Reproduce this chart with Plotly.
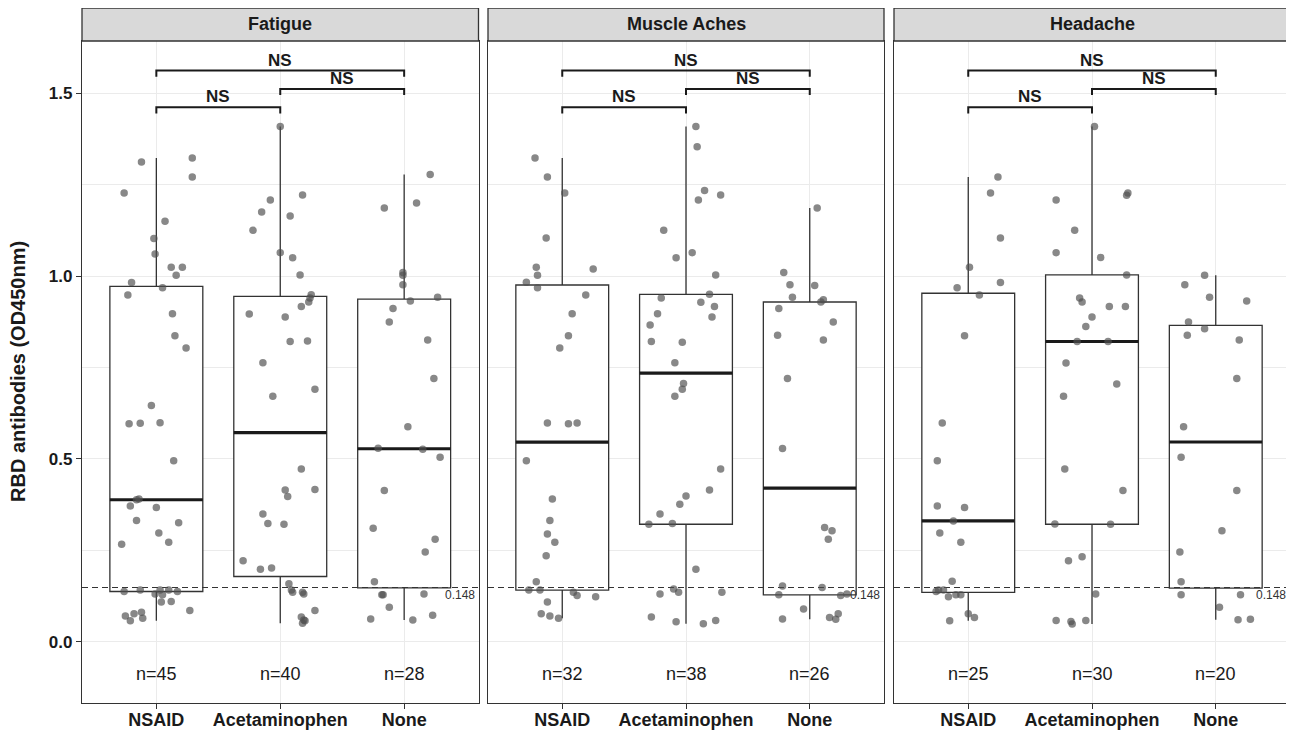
import numpy as np
import plotly.graph_objects as go

# ---------------- data ----------------
symptoms = ["Fatigue", "Muscle Aches", "Headache"]
treatments = ["NSAID", "Acetaminophen", "None"]
threshold = 0.148
y_ticks = [0.0, 0.5, 1.0, 1.5]
y_title = "RBD antibodies (OD450nm)"
sig_label = "NS"
comparisons = [(1, 2), (2, 3), (1, 3)]
bracket_levels = [1.462, 1.512, 1.562]

# Fatigue
fatigue_nsaid_y = [1.312, 1.323, 1.271, 1.227, 1.150, 1.103, 1.060, 1.024, 1.024, 1.002, 0.982, 0.948, 0.968, 0.897, 0.837, 0.803,
                   0.646, 0.596, 0.597, 0.599, 0.495, 0.390, 0.388, 0.371, 0.367, 0.331, 0.325, 0.297, 0.266, 0.272,
                   0.137, 0.141, 0.130, 0.141, 0.128, 0.141, 0.137, 0.108, 0.110, 0.085, 0.070, 0.076, 0.080, 0.064, 0.057]
fatigue_nsaid_dx = [-0.12, 0.29, 0.29, -0.26, 0.07, -0.02, -0.01, 0.12, 0.21, 0.16, -0.20, -0.23, 0.05, 0.13, 0.15, 0.24,
                    -0.04, -0.22, -0.13, 0.03, 0.14, -0.14, -0.16, -0.21, 0.00, -0.16, 0.18, 0.02, -0.28, 0.10,
                    -0.26, -0.13, -0.01, 0.03, 0.05, 0.10, 0.17, 0.04, 0.12, 0.27, -0.25, -0.18, -0.12, -0.11, -0.21]
fatigue_acet_y = [1.409, 1.222, 1.208, 1.175, 1.164, 1.125, 1.064, 1.050, 1.003, 0.949, 0.929, 0.917, 0.896, 0.888, 0.821, 0.822, 0.763, 0.940,
                  0.690, 0.671,
                  0.472, 0.415, 0.416, 0.397, 0.349, 0.323, 0.321, 0.221, 0.198, 0.201,
                  0.158, 0.141, 0.135, 0.135, 0.130, 0.085, 0.067, 0.059, 0.050, 0.057]
fatigue_acet_dx = [0.00, 0.18, -0.08, -0.15, 0.08, -0.22, 0.00, 0.10, 0.16, 0.25, 0.23, 0.17, -0.25, 0.04, 0.08, 0.22, -0.14, 0.24,
                   0.28, -0.06,
                   0.17, 0.04, 0.28, 0.06, -0.14, -0.10, 0.03, -0.30, -0.16, -0.07,
                   0.07, 0.09, 0.10, 0.18, 0.19, 0.28, 0.17, 0.19, 0.18, 0.20]
fatigue_none_y = [1.278, 1.200, 1.186, 1.010, 1.002, 0.976, 0.942, 0.932, 0.911, 0.874, 0.825, 0.720,
                  0.588, 0.529, 0.526, 0.504, 0.413, 0.310, 0.280, 0.245,
                  0.164, 0.128, 0.128, 0.130, 0.094, 0.072, 0.062, 0.059]
fatigue_none_dx = [0.21, 0.10, -0.16, -0.01, -0.01, -0.01, 0.27, 0.05, -0.09, -0.12, 0.19, 0.24,
                   0.03, -0.21, 0.15, 0.29, -0.16, -0.25, 0.25, 0.17,
                   -0.24, -0.18, -0.17, 0.16, -0.12, 0.23, -0.27, 0.07]

# Muscle Aches
muscle_nsaid_y = [1.323, 1.271, 1.227, 1.104, 1.024, 1.019, 1.002, 0.983, 0.968, 0.948, 0.897, 0.837, 0.803,
                  0.598, 0.596, 0.598, 0.495, 0.390, 0.331, 0.294, 0.272, 0.235,
                  0.164, 0.141, 0.141, 0.135, 0.126, 0.123, 0.108, 0.076, 0.070, 0.064]
muscle_nsaid_dx = [-0.22, -0.12, 0.02, -0.13, -0.21, 0.25, -0.20, -0.29, -0.20, 0.19, 0.08, 0.05, -0.02,
                   -0.12, 0.05, 0.12, -0.29, -0.08, -0.10, -0.12, -0.06, -0.13,
                   -0.21, -0.27, -0.18, 0.09, 0.12, 0.27, -0.12, -0.17, -0.10, -0.03]
muscle_acet_y = [1.409, 1.354, 1.234, 1.222, 1.208, 1.125, 1.064, 1.050, 1.003, 0.950, 0.940, 0.928, 0.917, 0.897, 0.888, 0.866, 0.821, 0.819,
                 0.763, 0.706, 0.690, 0.671,
                 0.472, 0.415, 0.398, 0.376, 0.349, 0.321, 0.323, 0.198,
                 0.144, 0.135, 0.135, 0.130, 0.067, 0.054, 0.049, 0.058]
muscle_acet_dx = [0.08, 0.09, 0.15, 0.28, 0.10, -0.18, 0.05, -0.08, 0.24, 0.19, -0.20, 0.12, 0.23, -0.23, 0.21, -0.29, -0.28, -0.03,
                  -0.09, -0.02, -0.03, -0.09,
                  0.28, 0.19, 0.00, -0.05, -0.21, -0.30, -0.11, 0.08,
                  -0.10, -0.06, 0.29, -0.21, -0.28, -0.08, 0.14, 0.24]
muscle_none_y = [1.186, 1.010, 0.976, 0.974, 0.942, 0.935, 0.929, 0.911, 0.874, 0.838, 0.825, 0.720,
                 0.528, 0.312, 0.303, 0.280,
                 0.152, 0.148, 0.128, 0.126, 0.130, 0.089, 0.062, 0.066, 0.061, 0.076]
muscle_none_dx = [0.06, -0.21, -0.16, 0.04, -0.14, 0.11, 0.09, -0.25, 0.19, -0.26, 0.11, -0.18,
                  -0.22, 0.12, 0.18, 0.15,
                  -0.22, 0.10, -0.25, 0.25, 0.30, -0.05, -0.22, 0.16, 0.21, 0.23]

# Headache
headache_nsaid_y = [1.271, 1.227, 1.104, 1.024, 0.968, 0.982, 0.948, 0.837,
                    0.598, 0.495, 0.371, 0.367, 0.330, 0.297, 0.272, 0.165,
                    0.137, 0.141, 0.141, 0.123, 0.128, 0.128, 0.076, 0.066, 0.057]
headache_nsaid_dx = [0.24, 0.18, 0.26, 0.01, -0.09, 0.26, 0.09, -0.03,
                     -0.21, -0.25, -0.25, -0.03, -0.12, -0.23, -0.06, -0.13,
                     -0.26, -0.20, -0.24, -0.16, -0.10, -0.06, 0.00, 0.05, -0.15]
headache_acet_y = [1.409, 1.227, 1.221, 1.208, 1.125, 1.064, 1.051, 1.003, 0.940, 0.929, 0.917, 0.917, 0.888, 0.862, 0.821, 0.821,
                   0.762, 0.705, 0.671,
                   0.472, 0.413, 0.322, 0.321, 0.221, 0.232,
                   0.130, 0.058, 0.055, 0.048, 0.058]
headache_acet_dx = [0.02, 0.29, 0.28, -0.29, -0.14, -0.29, 0.07, 0.28, -0.10, -0.08, 0.14, 0.27, 0.00, -0.05, -0.12, 0.13,
                    -0.21, 0.20, -0.23,
                    -0.22, 0.25, -0.30, 0.15, -0.19, -0.08,
                    0.03, -0.29, -0.17, -0.16, -0.05]
headache_none_y = [1.002, 0.976, 0.942, 0.932, 0.874, 0.856, 0.838, 0.825, 0.720,
                   0.588, 0.504, 0.413, 0.303, 0.245,
                   0.164, 0.128, 0.128, 0.094, 0.060, 0.061]
headache_none_dx = [-0.09, -0.25, -0.05, 0.25, -0.22, -0.09, -0.23, 0.19, 0.17,
                    -0.26, -0.28, 0.17, 0.05, -0.29,
                    -0.28, -0.28, 0.20, 0.03, 0.18, 0.28]

panel_data = [
    [(fatigue_nsaid_y, fatigue_nsaid_dx), (fatigue_acet_y, fatigue_acet_dx), (fatigue_none_y, fatigue_none_dx)],
    [(muscle_nsaid_y, muscle_nsaid_dx), (muscle_acet_y, muscle_acet_dx), (muscle_none_y, muscle_none_dx)],
    [(headache_nsaid_y, headache_nsaid_dx), (headache_acet_y, headache_acet_dx), (headache_none_y, headache_none_dx)],
]

# ---------------- styling ----------------
FONT = "Liberation Sans, Arial, sans-serif"
DARK = "#1a1a1a"
LINE = "#333333"
GRID = "#EBEBEB"
# page body has an 8px margin, so the figure is drawn 8px smaller and offset
W, H = 1286, 725
ML, MR, MT, MB = 74, 4, 33, 30
PW = W - ML - MR
PH = H - MT - MB
STRIP_H = 33
domains = [(0.0, 396.5 / PW), (406 / PW, 802 / PW), (812 / PW, 1.0)]
YR = [-0.168, 1.643]
XR = [0.4, 3.6]

fig = go.Figure()

for p, sym in enumerate(symptoms):
    sfx = "" if p == 0 else str(p + 1)
    xa, ya = "x" + sfx, "y" + sfx
    # boxes
    for j, (yv, dx) in enumerate(panel_data[p]):
        pos = j + 1
        fig.add_trace(go.Box(
            x=[pos] * len(yv), y=yv, width=0.75, boxpoints=False,
            fillcolor="white", line=dict(color=LINE, width=1.3),
            whiskerwidth=0, quartilemethod="linear",
            xaxis=xa, yaxis=ya, showlegend=False, hoverinfo="skip"))
        med = float(np.median(yv))
        fig.add_trace(go.Scatter(
            x=[pos - 0.375, pos + 0.375], y=[med, med], mode="lines",
            line=dict(color=DARK, width=3.2), xaxis=xa, yaxis=ya,
            showlegend=False, hoverinfo="skip"))
    # threshold
    fig.add_trace(go.Scatter(
        x=XR, y=[threshold, threshold], mode="lines",
        line=dict(color=LINE, width=1.2, dash="6px,4px"),
        xaxis=xa, yaxis=ya, showlegend=False, hoverinfo="skip"))
    # jittered points
    for j, (yv, dx) in enumerate(panel_data[p]):
        pos = j + 1
        fig.add_trace(go.Scatter(
            x=pos + np.array(dx), y=yv, mode="markers",
            marker=dict(size=7.5, color="rgba(80,80,80,0.68)", line=dict(width=0)),
            xaxis=xa, yaxis=ya, showlegend=False, hoverinfo="skip"))
        fig.add_annotation(x=pos, y=-0.088, xref=xa, yref=ya, text=f"n={len(yv)}",
                           showarrow=False, font=dict(family=FONT, size=18, color=DARK))
    # significance brackets
    for (a, b), lvl in zip(comparisons, bracket_levels):
        fig.add_trace(go.Scatter(
            x=[a, a, b, b], y=[lvl - 0.017, lvl, lvl, lvl - 0.017], mode="lines",
            line=dict(color=DARK, width=2), xaxis=xa, yaxis=ya,
            showlegend=False, hoverinfo="skip"))
        fig.add_annotation(x=(a + b) / 2, y=lvl + 0.028, xref=xa, yref=ya, text=f"<b>{sig_label}</b>",
                           showarrow=False, yanchor="middle",
                           font=dict(family=FONT, size=17, color=DARK))
    # threshold label
    fig.add_annotation(x=3.585, y=threshold, xref=xa, yref=ya, text=f"{threshold}",
                       showarrow=False, xanchor="right", yanchor="middle", yshift=-8,
                       font=dict(family=FONT, size=12, color=LINE))
    # strip
    fig.add_shape(type="rect", xref=xa + " domain", yref="paper",
                  x0=0, x1=1, y0=1, y1=1 + STRIP_H / PH,
                  fillcolor="#D9D9D9", line=dict(color=LINE, width=1.3), layer="above")
    fig.add_annotation(x=0.5, y=1 + (STRIP_H + 1) / 2 / PH, xref=xa + " domain", yref="paper",
                       text=f"<b>{sym}</b>", showarrow=False, yanchor="middle",
                       font=dict(family=FONT, size=18, color=DARK))

    xaxis = dict(domain=list(domains[p]), range=XR, tickvals=[1, 2, 3],
                 ticktext=[f"<b>{t}</b>" for t in treatments], automargin=False,
                 ticklabelstandoff=-5,
                 showgrid=True, gridcolor=GRID, gridwidth=1.1, zeroline=False,
                 showline=True, mirror=True, linecolor=LINE, linewidth=1.3,
                 ticks="outside", ticklen=5, tickcolor=LINE, tickwidth=1.2,
                 tickfont=dict(family=FONT, size=18, color=DARK), anchor=ya)
    yaxis = dict(range=YR, tickvals=y_ticks, ticktext=[f"<b>{v:.1f}</b>" for v in y_ticks],
                 automargin=False,
                 showgrid=True, gridcolor=GRID, gridwidth=1.1, zeroline=False,
                 showline=True, mirror=True, linecolor=LINE, linewidth=1.3,
                 minor=dict(tickvals=[0.25, 0.75, 1.25], showgrid=True, gridcolor=GRID, gridwidth=0.6, ticks=""),
                 anchor=xa)
    if p == 0:
        yaxis.update(ticks="outside", ticklen=5, tickcolor=LINE, tickwidth=1.2,
                     tickfont=dict(family=FONT, size=17, color=DARK))
    else:
        yaxis.update(ticks="", showticklabels=False)
    fig.update_layout({"xaxis" + sfx: xaxis, "yaxis" + sfx: yaxis})

# y title
fig.add_annotation(x=-(ML - 10) / PW, y=0.5, xref="paper", yref="paper", text=f"<b>{y_title}</b>",
                   textangle=-90, showarrow=False, xanchor="center", yanchor="middle",
                   font=dict(family=FONT, size=20, color=DARK))

fig.update_layout(width=W, height=H, margin=dict(l=ML, r=MR, t=MT, b=MB, autoexpand=False),
                  plot_bgcolor="white", paper_bgcolor="white", showlegend=False,
                  boxmode="overlay")

fig.write_html("out.html")
